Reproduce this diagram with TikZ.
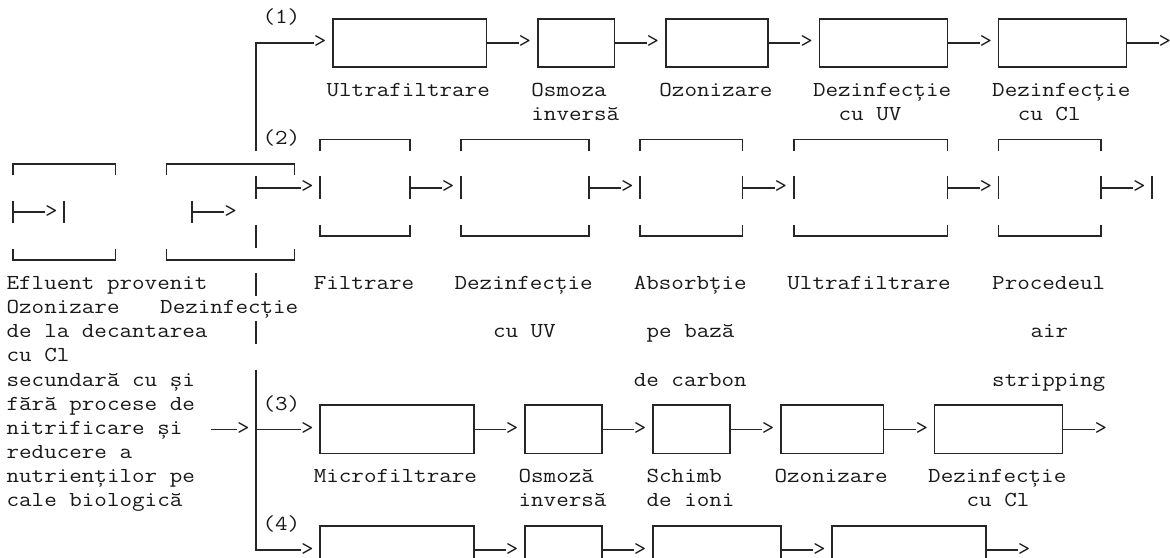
\documentclass[tikz,border=0pt]{standalone}
\usepackage{fontspec}
\usepackage{graphicx}
\newcommand\cmono{\ttfamily\fontsize{21.33pt}{24pt}\selectfont}
\newcommand\stretchtxt[1]{\scalebox{1.1429}[1]{#1}}
\newcommand\lbl[3]{\node[txt] (t#2c#1) at (#1-0.5,#2+0.207) {\stretchtxt{#3}};}
\newcommand\gt[3]{\node[arr] (#1) at (#2,#3+0.207) {\stretchtxt{>}};}
% box node: name, left col, right col, top row
\newcommand\bxn[4]{\node[bx,minimum width={(#3-#2)*12.8pt}] (#1) at ({(#2+#3)/2},#4+1) {};}
% connector from box node: box, arrow name, arrow col, row
\newcommand\conn[4]{\gt{#2}{#3}{#4}\draw[ln] (#1.east) -- (#2.west |- #1.east);}
% bracket box of group 2: left, right, name
\newcommand\brk[3]{%
 \draw[ln] (#1,5.476) -- (#1,5) -- (#2,5) -- (#2,5.476);
 \draw[ln] (#1,6.524) -- (#1,7.476);
 \draw[ln] (#2,6.524) -- (#2,7.476);
 \draw[ln] (#1,8.524) -- (#1,9) -- (#2,9) -- (#2,8.524);
 \coordinate (#3) at (#2,7);}
\newcommand\bconn[3]{\gt{#2}{#3}{7}\draw[ln] (#1) -- (#2.west |- #1);}
\begin{document}
\begin{tikzpicture}[x=12.8pt,y=-24.15pt,
  ln/.style={line width=1.7pt,draw=black!85,line cap=butt},
  bx/.style={draw=black!85,line width=1.7pt,rectangle,inner sep=0pt,outer sep=0pt,minimum height=48.3pt},
  txt/.style={inner sep=0pt,outer sep=0pt,anchor=base west,font=\cmono,text=black!90},
  arr/.style={inner sep=0pt,outer sep=0pt,anchor=base,text depth=0pt,font=\cmono,text=black!90}]
\useasboundingbox (-13pt,18.8pt) rectangle (1157pt,-538.2pt);
\clip (-13pt,18.8pt) rectangle (1157pt,-538.2pt);
\fill[white] (-13pt,18.8pt) rectangle (1157pt,-538.2pt);

% ---------- group 1 (rows 0-2)
\lbl{20}{0}{(1)}
\bxn{ba}{25}{37}{0}
\bxn{bb}{41}{47}{0}
\bxn{bc}{51}{59}{0}
\bxn{bd}{63}{73}{0}
\bxn{be}{77}{87}{0}
\coordinate (c1) at (19,1);
\gt{g1}{24}{1}
\draw[ln] (19,5.476) -- (c1) -- (g1.west |- c1);
\conn{ba}{ga}{40}{1}
\conn{bb}{gb}{50}{1}
\conn{bc}{gc}{62}{1}
\conn{bd}{gd}{76}{1}
\conn{be}{ge}{90}{1}
\lbl{25}{3}{Ultrafiltrare}
\lbl{41}{3}{Osmoza}
\lbl{51}{3}{Ozonizare}
\lbl{63}{3}{Dezinfecție}
\lbl{77}{3}{Dezinfecție}
\lbl{41}{4}{inversă}
\lbl{65}{4}{cu UV}
\lbl{79}{4}{cu Cl}

% ---------- group 2 (rows 5,7,9)
\lbl{20}{5}{(2)}
\brk{24}{31}{pa}
\brk{35}{45}{pb}
\brk{49}{57}{pc}
\brk{61}{73}{pd}
\brk{77}{85}{pe}
\coordinate (c2) at (19,7);
\gt{g2}{23}{7}
\draw[ln] (19,6.524) -- (19,7.476);
\draw[ln] (c2) -- (g2.west |- c2);
\bconn{pa}{ha}{34}
\bconn{pb}{hb}{48}
\bconn{pc}{hc}{60}
\bconn{pd}{hd}{76}
\bconn{pe}{he}{88}
\draw[ln] (89,6.524) -- (89,7.476);
\lbl{24}{11}{Filtrare}
\lbl{35}{11}{Dezinfecție}
\lbl{49}{11}{Absorbție}
\lbl{61}{11}{Ultrafiltrare}
\lbl{77}{11}{Procedeul}
\lbl{38}{13}{cu UV}
\lbl{50}{13}{pe bază}
\lbl{80}{13}{air}
\lbl{49}{15}{de carbon}
\lbl{77}{15}{stripping}

% ---------- left boxes (rows 6,8,10)
\draw[ln] (0,6.476) -- (0,6) -- (8,6) -- (8,6.476);
\draw[ln] (0,9.524) -- (0,10) -- (8,10) -- (8,9.524);
\draw[ln] (0,7.524) -- (0,8.476);
\draw[ln] (4,7.524) -- (4,8.476);
\coordinate (la) at (0,8);
\gt{ka}{3}{8}
\draw[ln] (la) -- (ka.west |- la);
\draw[ln] (12,6.476) -- (12,6) -- (22,6) -- (22,6.476);
\draw[ln] (12,9.524) -- (12,10) -- (22,10) -- (22,9.524);
\draw[ln] (14,7.524) -- (14,8.476);
\coordinate (lb) at (14,8);
\gt{kb}{17}{8}
\draw[ln] (lb) -- (kb.west |- lb);

% ---------- trunk pieces
\draw[ln] (19,8.524) -- (19,9.476);
\draw[ln] (19,10.524) -- (19,11.476);
\draw[ln] (19,12.524) -- (19,13.476);
\coordinate (c4) at (19,22);
\gt{g4}{23}{22}
\draw[ln] (19,14.524) -- (c4) -- (g4.west |- c4);
\coordinate (c3) at (19,17);
\gt{g3}{23}{17}
\draw[ln] (c3) -- (g3.west |- c3);
\coordinate (in0) at (15.5,17);
\gt{gin}{18}{17}
\draw[ln] (in0) -- (gin.west |- in0);

% ---------- left text
\lbl{0}{11}{Efluent provenit}
\lbl{0}{12}{Ozonizare}
\lbl{12}{12}{Dezinfecție}
\lbl{0}{13}{de la decantarea}
\lbl{0}{14}{cu Cl}
\lbl{0}{15}{secundară cu și}
\lbl{0}{16}{fără procese de}
\lbl{0}{17}{nitrificare și}
\lbl{0}{18}{reducere a}
\lbl{0}{19}{nutrienților pe}
\lbl{0}{20}{cale biologică}

% ---------- group 3 (rows 16-18)
\lbl{20}{16}{(3)}
\bxn{ma}{24}{36}{16}
\bxn{mb}{40}{46}{16}
\bxn{mc}{50}{56}{16}
\bxn{md}{60}{68}{16}
\bxn{me}{72}{82}{16}
\conn{ma}{na}{39}{17}
\conn{mb}{nb}{49}{17}
\conn{mc}{nc}{59}{17}
\conn{md}{nd}{71}{17}
\conn{me}{ne}{85}{17}
\lbl{24}{19}{Microfiltrare}
\lbl{40}{19}{Osmoză}
\lbl{50}{19}{Schimb}
\lbl{60}{19}{Ozonizare}
\lbl{72}{19}{Dezinfecție}
\lbl{40}{20}{inversă}
\lbl{50}{20}{de ioni}
\lbl{75}{20}{cu Cl}

% ---------- group 4 (rows 21-23, cut off)
\lbl{20}{21}{(4)}
\bxn{qa}{24}{36}{21}
\bxn{qb}{40}{46}{21}
\bxn{qc}{50}{60}{21}
\bxn{qd}{64}{76}{21}
\conn{qa}{ra}{39}{22}
\conn{qb}{rb}{49}{22}
\conn{qc}{rc}{63}{22}
\conn{qd}{rd}{79}{22}
\end{tikzpicture}
\end{document}
